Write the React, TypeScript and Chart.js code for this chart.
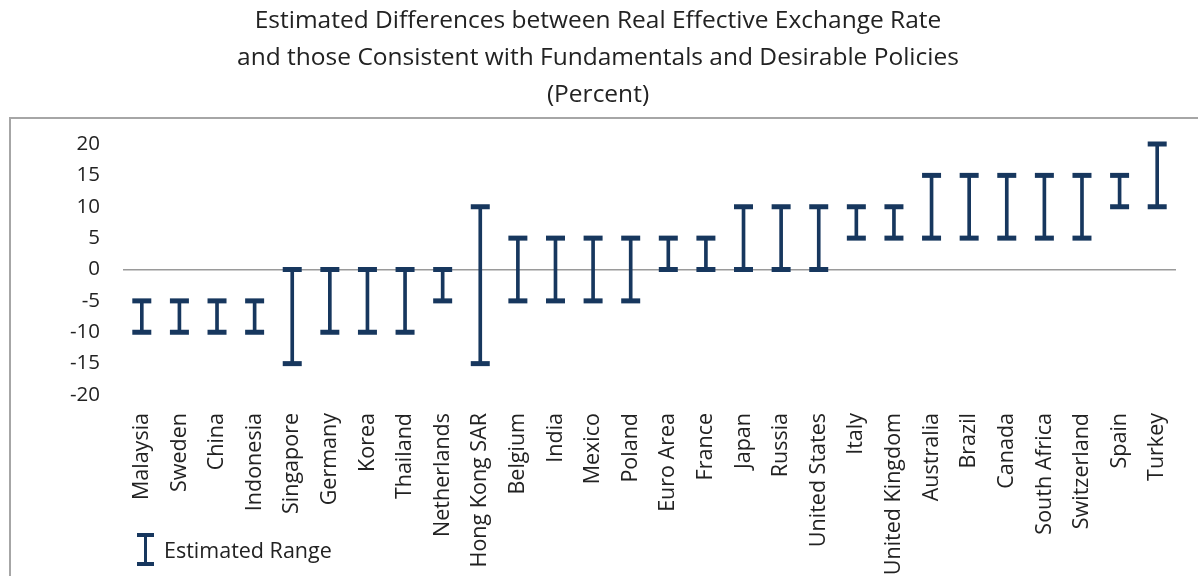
import React, { useEffect, useRef } from "react";
import { Chart, registerables } from "chart.js";

Chart.register(...registerables);

const categories = [
  "Malaysia", "Sweden", "China", "Indonesia", "Singapore", "Germany", "Korea",
  "Thailand", "Netherlands", "Hong Kong SAR", "Belgium", "India", "Mexico",
  "Poland", "Euro Area", "France", "Japan", "Russia", "United States", "Italy",
  "United Kingdom", "Australia", "Brazil", "Canada", "South Africa",
  "Switzerland", "Spain", "Turkey",
];
const lowValues = [
  -10, -10, -10, -10, -15, -10, -10, -10, -5, -15, -5, -5, -5, -5, 0, 0, 0, 0,
  0, 5, 5, 5, 5, 5, 5, 5, 10, 10,
];
const highValues = [
  -5, -5, -5, -5, 0, 0, 0, 0, 0, 10, 5, 5, 5, 5, 5, 5, 10, 10, 10, 10, 10, 15,
  15, 15, 15, 15, 15, 20,
];
const titleLines = [
  "Estimated Differences between Real Effective Exchange Rate",
  "and those Consistent with Fundamentals and Desirable Policies",
  "(Percent)",
];
const legendLabel = "Estimated Range";

const NAVY = "#17375e";
const FONT = "'Open Sans', 'Noto Sans', sans-serif";

const framePlugin = {
  id: "frame",
  beforeDraw(chart: any) {
    const ctx = chart.ctx;
    ctx.save();
    ctx.strokeStyle = "#a6a6a6";
    ctx.lineWidth = 2;
    ctx.strokeRect(10, 118, chart.width + 20, chart.height + 20);
    ctx.restore();
  },
};

export default function App() {
  const ref = useRef<HTMLCanvasElement>(null);
  useEffect(() => {
    if (!ref.current) return;
    const capDataset = (label: string, data: number[]) =>
      ({
        type: "line",
        label,
        data,
        showLine: false,
        pointStyle: "line",
        pointRadius: 9.5,
        pointBorderWidth: 5,
        borderColor: NAVY,
        backgroundColor: NAVY,
        clip: false,
        order: 1,
      } as any);
    const chart = new Chart(ref.current, {
      type: "bar",
      data: {
        labels: categories,
        datasets: [
          {
            type: "bar",
            label: legendLabel,
            data: categories.map((_, i) => [lowValues[i], highValues[i]]) as any,
            backgroundColor: NAVY,
            barThickness: 3,
            borderWidth: 0,
            order: 2,
          } as any,
          capDataset("low", lowValues),
          capDataset("high", highValues),
        ],
      },
      options: {
        animation: false,
        responsive: true,
        maintainAspectRatio: false,
        layout: { padding: { left: 20, right: 22, top: 0, bottom: 0 } },
        plugins: {
          legend: { display: false },
          tooltip: { enabled: false },
          title: {
            display: true,
            text: titleLines,
            color: "#222",
            font: { family: FONT, size: 24.5, weight: "normal", lineHeight: "37px" },
            padding: { top: 3, bottom: 30 },
          },
        },
        scales: {
          x: {
            grid: { display: false },
            border: { display: false },
            afterFit: (s: any) => {
              s.height = 205;
            },
            ticks: {
              color: "#222",
              font: { family: FONT, size: 21.5 },
              minRotation: 90,
              maxRotation: 90,
              autoSkip: false,
              padding: 10,
            },
          },
          y: {
            min: -20,
            max: 20,
            border: { display: false },
            afterFit: (s: any) => {
              s.width = 103;
            },
            grid: {
              drawTicks: false,
              color: (c: any) => (c.tick && c.tick.value === 0 ? "#9a9a9a" : "transparent"),
              lineWidth: 1.5,
            },
            ticks: {
              stepSize: 5,
              color: "#222",
              font: { family: FONT, size: 20.5 },
              padding: 23,
            },
          },
        },
      },
      plugins: [framePlugin],
    });
    return () => chart.destroy();
  }, []);

  return (
    <div style={{ position: "absolute", left: 0, top: 0, width: 1198, height: 576, overflow: "hidden", background: "#fff" }}>
      <div style={{ position: "absolute", left: 0, top: 0, width: 1198, height: 600 }}>
        <canvas ref={ref} />
      </div>
      <div style={{ position: "absolute", left: 136, top: 533, display: "flex", alignItems: "center", fontFamily: FONT, fontSize: 21.5, color: "#222" }}>
        <svg width="20" height="33" style={{ marginRight: 8 }}>
          <rect x="1" y="0" width="17" height="4" fill={NAVY} />
          <rect x="8" y="0" width="3" height="33" fill={NAVY} />
          <rect x="1" y="29" width="17" height="4" fill={NAVY} />
        </svg>
        <span>{legendLabel}</span>
      </div>
    </div>
  );
}
